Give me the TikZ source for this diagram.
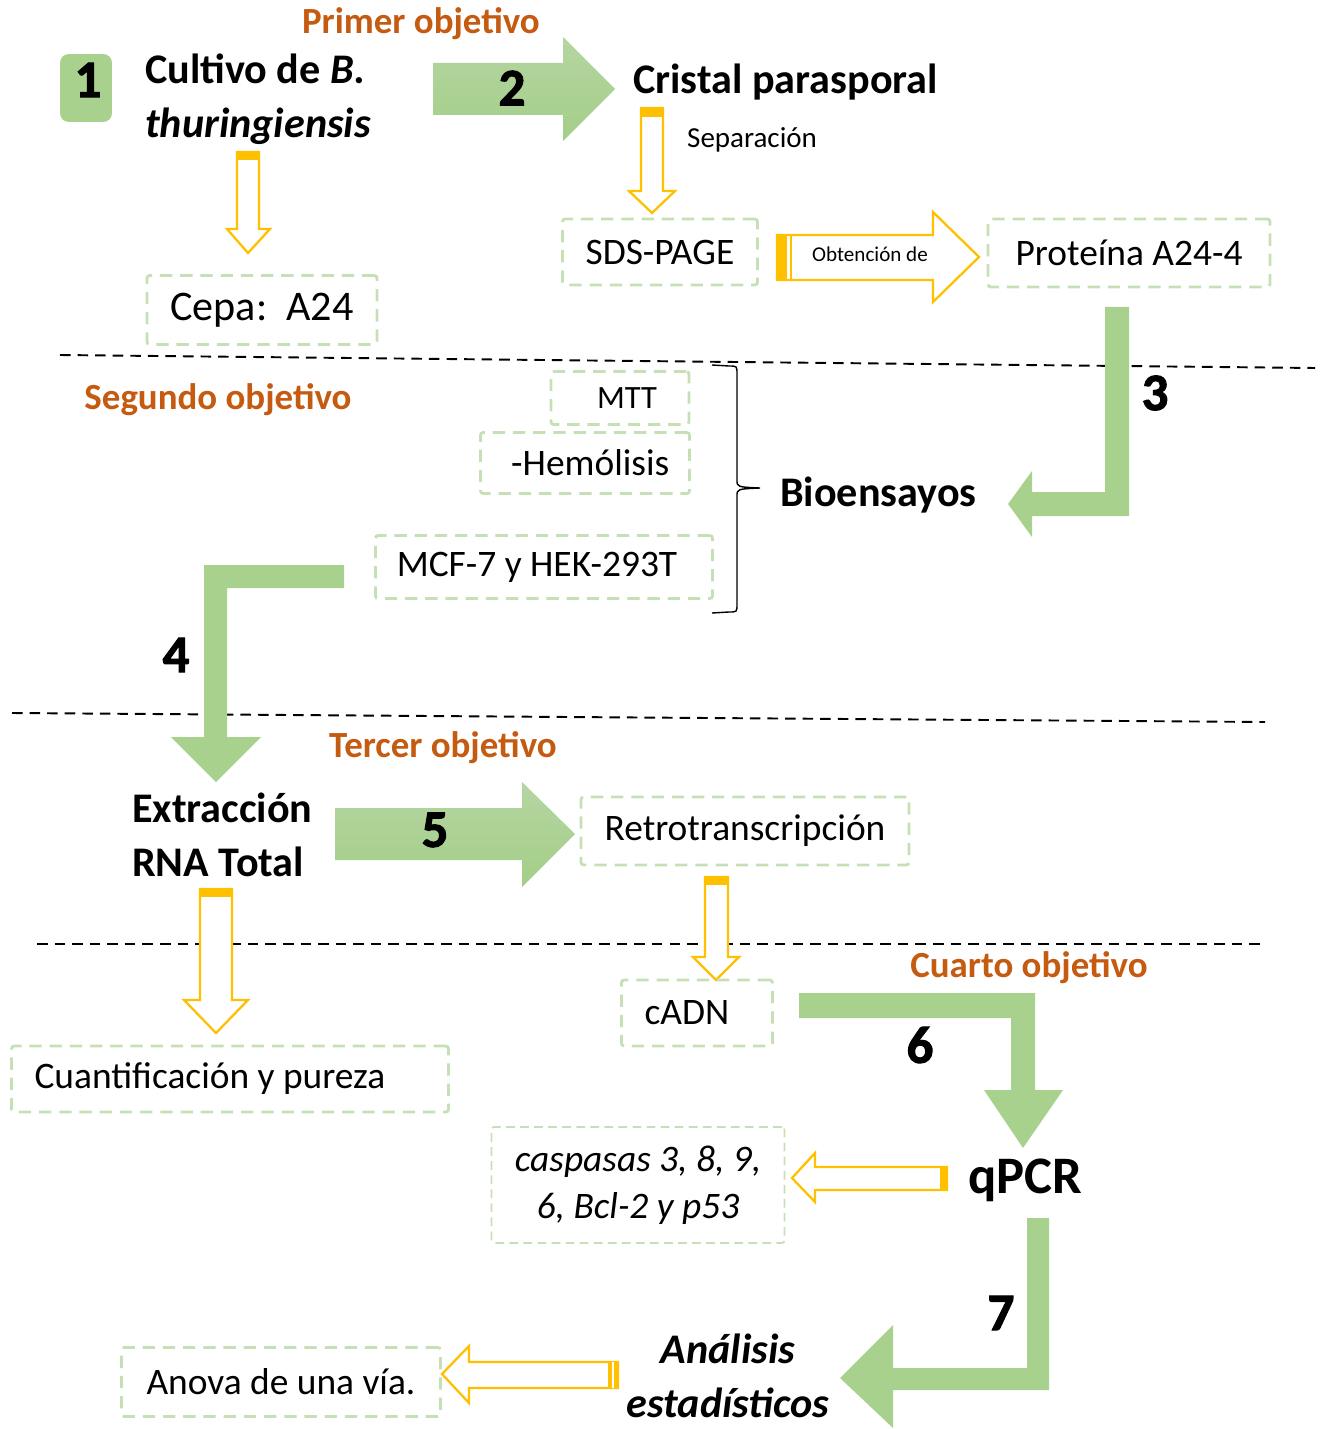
\documentclass[tikz,border=0pt]{standalone}
\usepackage{fontspec}
\setmainfont{Carlito}
\newfontfamily\numfont[FakeBold=2]{Carlito}
\usepackage{tikz}

\definecolor{goalorange}{HTML}{C55A11}
\definecolor{boxgreen}{HTML}{C5E0B4}
\definecolor{arrowgreen}{HTML}{A9D18E}
\definecolor{greentop}{HTML}{B5D5A2}
\definecolor{greenbot}{HTML}{A3CE88}
\definecolor{arrowyellow}{HTML}{FFC000}

\begin{document}
\begin{tikzpicture}[x=0.02cm, y=-0.02cm,
	bold/.style={font=\fontsize{24}{30.6}\selectfont\bfseries, align=left},
	goal/.style={font=\fontsize{21}{25}\selectfont\bfseries, text=goalorange},
	num/.style={font=\fontsize{30}{30}\numfont\bfseries},
	dbox/.style={draw=boxgreen, line width=1.6pt, dash pattern=on 7pt off 4.5pt, rounded corners=1.5pt, inner sep=0pt, font=\fontsize{21.3}{26}\selectfont},
	hollow/.style={draw=arrowyellow, line width=1.3pt, fill=white, line join=miter},
	bar/.style={fill=arrowyellow},
	bent/.style={fill=arrowgreen},
	block/.style={top color=greentop, bottom color=greenbot},
	sep/.style={line width=1.1pt, dash pattern=on 6pt off 4pt}]
	\useasboundingbox (0,0) rectangle (1321,1429);

	% Separators between objectives
	\draw [sep] (60,355) -- (1315,368);
	\draw [sep] (12,713) -- (1265,722);
	\draw [sep] (37,944) -- (1262,944);

	% Objectives
	\node [goal] (obj1) at (421,24)   {Primer objetivo};
	\node [goal] (obj2) at (218,400)  {Segundo objetivo};
	\node [goal] (obj3) at (443,748)  {Tercer objetivo};
	\node [goal] (obj4) at (1029,968) {Cuarto objetivo};

	% Primer objetivo
	\node [fill=arrowgreen, rounded corners=5pt, minimum width=1.04cm, minimum height=1.36cm] (uno) at (86,88) {};
	\node [num] (n1) at (88,80) {1};
	\node [bold, anchor=west] (cultivo) at (139,99) {Cultivo de \textit{B.}\\\textit{thuringiensis}};
	\node [bold, anchor=west] (cristal) at (627,82) {Cristal parasporal};
	\node [font=\fontsize{16.5}{20}\selectfont, anchor=west] (sepa) at (681,140) {Separación};
	\node [dbox, minimum width=3.9cm, minimum height=1.32cm] (sds) at (660,252) {SDS-PAGE};
	\node [dbox, minimum width=5.64cm, minimum height=1.36cm] (prot) at (1129,253) {Proteína A24-4};
	\node [dbox, minimum width=4.6cm, minimum height=1.38cm, font=\fontsize{24}{28}\selectfont] (cepa) at (262,310) {Cepa:~~A24};

	\shade [block] (433,63) -- (563,63) -- (563,37) -- (615,89) -- (563,141) -- (563,115) -- (433,115) -- cycle;
	\node [num] (n2) at (512,88) {2};

	\draw [hollow] (237,152) -- (259,152) -- (259,229) -- (270,229) -- (248,253) -- (227,229) -- (237,229) -- cycle;
	\fill [bar] (237,152) rectangle (259,160);
	\draw [hollow] (641,108) -- (663,108) -- (663,191) -- (675,191) -- (652,213) -- (629,191) -- (641,191) -- cycle;
	\fill [bar] (641,108) rectangle (663,117);
	\draw [hollow] (777,235) -- (933,235) -- (933,212) -- (979,257) -- (933,302) -- (933,280) -- (777,280) -- cycle;
	\fill [bar] (777,235) rectangle (787,280);
	\draw [arrowyellow, line width=1.3pt] (791,235) -- (791,280);
	\node [font=\fontsize{12}{14}\selectfont] (obt) at (870,254) {Obtención de};

	% Segundo objetivo
	\fill [bent] (1105,307) -- (1129,307) -- (1129,516) -- (1032,516) -- (1032,537) -- (1008,504) -- (1032,471) -- (1032,492) -- (1105,492) -- cycle;
	\node [num] (n3) at (1155,393) {3};
	\node [dbox, minimum width=2.76cm, minimum height=1.06cm, font=\fontsize{18.5}{22}\selectfont] (mtt) at (620,398) {\hspace*{8pt}MTT};
	\node [dbox, minimum width=4.18cm, minimum height=1.22cm] (hemo) at (585,463) {\hspace*{6pt}-Hemólisis};
	\node [dbox, minimum width=6.74cm, minimum height=1.26cm] (mcf) at (544,567) {MCF-7 y HEK-293T\hspace*{8pt}};
	\draw [line width=0.8pt] (712,365) -- (729,366) .. controls (737,366) .. (737,374) -- (737,480)
		.. controls (737,487) .. (760,488) .. controls (737,489) .. (737,496) -- (737,604)
		.. controls (737,612) .. (729,612) -- (712,613);
	\node [bold, anchor=west] (bio) at (774,495) {Bioensayos};

	\fill [bent] (344,565) -- (344,588) -- (227,588) -- (227,737) -- (261,737) -- (216,782) -- (171,737) -- (204,737) -- (204,565) -- cycle;
	\node [num] (n4) at (176,655) {4};

	% Tercer objetivo
	\node [bold, anchor=west] (extr) at (126,835) {Extracción\\RNA Total};
	\shade [block] (335,808) -- (522,808) -- (522,782) -- (575,834) -- (522,887) -- (522,860) -- (335,860) -- cycle;
	\node [num] (n5) at (435,830) {5};
	\node [dbox, minimum width=6.56cm, minimum height=1.36cm] (retro) at (745,831) {Retrotranscripción};

	\draw [hollow] (705,877) -- (728,877) -- (728,957) -- (739,957) -- (716,980) -- (693,957) -- (705,957) -- cycle;
	\fill [bar] (705,877) rectangle (728,885);
	\draw [hollow] (200,889) -- (232,889) -- (232,1000) -- (248,1000) -- (216,1033) -- (184,1000) -- (200,1000) -- cycle;
	\fill [bar] (200,889) rectangle (232,897);

	% Cuarto objetivo
	\node [dbox, minimum width=3.02cm, minimum height=1.32cm, text width=2.1cm, align=flush left] (cadn) at (697,1013) {cADN};
	\node [dbox, minimum width=8.74cm, minimum height=1.32cm, text width=7.82cm, align=flush left] (cuant) at (230,1079) {Cuantificación y pureza};
	\fill [bent] (799,993) -- (1035,993) -- (1035,1090) -- (1063,1090) -- (1023,1148) -- (984,1090) -- (1011,1090) -- (1011,1018) -- (799,1018) -- cycle;
	\node [num] (n6) at (920,1045) {6};

	\node [dbox, line width=1pt, dash pattern=on 5pt off 3pt, minimum width=5.86cm, minimum height=2.32cm, align=center, font=\fontsize{21.3}{27}\selectfont\itshape] (casp) at (638,1185) {caspasas 3, 8, 9,\\6, Bcl-2 y p53};
	\node [font=\fontsize{30}{30}\selectfont\bfseries, anchor=west] (qpcr) at (962,1180) {qPCR};
	\draw [hollow] (947,1167) -- (815,1167) -- (815,1153) -- (792,1178) -- (815,1202) -- (815,1190) -- (947,1190) -- cycle;
	\fill [bar] (940,1167) rectangle (947,1190);

	\fill [bent] (1027,1218) -- (1049,1218) -- (1049,1390) -- (893,1390) -- (893,1428) -- (840,1378) -- (893,1325) -- (893,1368) -- (1027,1368) -- cycle;
	\node [num] (n7) at (1001,1313) {7};

	\node [bold, align=center, inner sep=0pt, font=\fontsize{24}{30.6}\selectfont\bfseries\itshape] (anal) at (728,1376) {Análisis\\estadísticos};
	\draw [hollow] (618,1362) -- (469,1362) -- (469,1346) -- (442,1374) -- (469,1403) -- (469,1388) -- (618,1388) -- cycle;
	\fill [bar] (608,1362) rectangle (618,1388);
	\draw [white, line width=0.6pt] (613,1362) -- (613,1388);
	\node [dbox, minimum width=6.38cm, minimum height=1.38cm] (anova) at (281,1382) {Anova de una vía.};
\end{tikzpicture}
\end{document}
